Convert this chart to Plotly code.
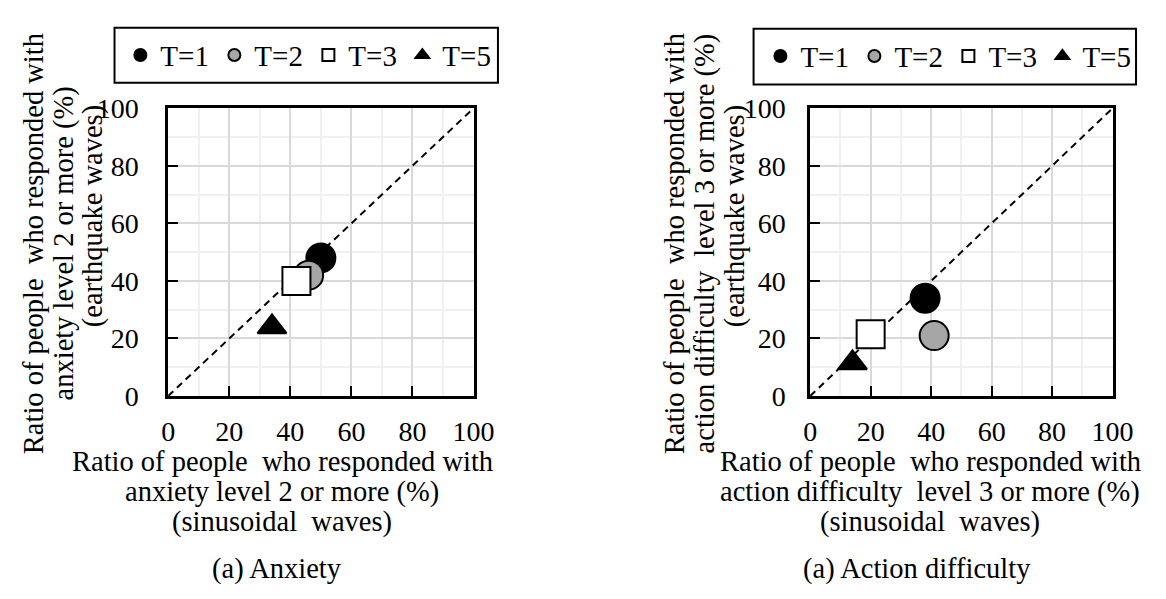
import plotly.graph_objects as go

# page is 1166x599; the html body adds an 8px margin, so the figure is sized to fit
PAGE_W, PAGE_H = 1166, 599
OFF = 8
W, H = PAGE_W - 2 * OFF, PAGE_H - 2 * OFF
FONT = "Liberation Serif, Times New Roman, serif"

# ---------------- data ----------------
series_names = ["T=1", "T=2", "T=3", "T=5"]
anxiety_sin = [50, 46, 42, 34]        # x: sinusoidal waves (%)
anxiety_eq = [48, 42, 40, 24]         # y: earthquake waves (%)
action_sin = [38, 41, 20, 14]
action_eq = [34, 21, 21.5, 11.5]
diag = [0, 100]
tick_vals = [0, 20, 40, 60, 80, 100]
tick_text = ["0", "20", "40", "60", "80", "100"]

x_title_a = ["Ratio of people  who responded with", "anxiety level 2 or more (%)", "(sinusoidal  waves)"]
y_title_a = ["Ratio of people  who responded with", "anxiety level 2 or more (%)", "(earthquake waves)"]
x_title_b = ["Ratio of people  who responded with", "action difficulty  level 3 or more (%)", "(sinusoidal  waves)"]
y_title_b = ["Ratio of people  who responded with", "action difficulty  level 3 or more (%)", "(earthquake waves)"]
captions = ["(a) Anxiety", "(a) Action difficulty"]

# ---------------- styles ----------------
symbols = ["circle", "circle", "square", "triangle-up"]
fills = ["black", "#a6a6a6", "white", "black"]
sizes = [29, 29, 28, 25]


def px(x):
    return (x - OFF) / W


def py(y):
    return 1 - (y - OFF) / H


fig = go.Figure()

panels = [
    (anxiety_sin, anxiety_eq, "x", "y", "legend"),
    (action_sin, action_eq, "x2", "y2", "legend2"),
]
for xs, ys, xa, ya, lg in panels:
    fig.add_trace(go.Scatter(x=diag, y=diag, mode="lines", xaxis=xa, yaxis=ya,
                             line=dict(color="black", width=2, dash="7px,5px"),
                             showlegend=False, hoverinfo="skip"))
    for i, name in enumerate(series_names):
        fig.add_trace(go.Scatter(
            x=[xs[i]], y=[ys[i]], mode="markers", name=name, xaxis=xa, yaxis=ya,
            legend=lg,
            marker=dict(symbol=symbols[i], size=sizes[i], color=fills[i],
                        line=dict(color="black", width=2)),
        ))

axis_common = dict(
    range=[0, 100], tickvals=tick_vals, ticktext=tick_text,
    showline=True, linecolor="black", linewidth=2.5, mirror=True,
    ticks="inside", ticklen=10, tickwidth=2, tickcolor="black",
    showgrid=True, gridcolor="#d9d9d9", gridwidth=2,
    minor=dict(dtick=10, showgrid=True, gridcolor="#f0f0f0", gridwidth=2, ticks=""),
    zeroline=False, fixedrange=True,
    tickfont=dict(family=FONT, size=28, color="black"),
)

legend_common = dict(orientation="h", xanchor="left", yanchor="middle",
                     font=dict(family=FONT, size=29, color="black"), entrywidth=49,
                     entrywidthmode="pixels", itemsizing="constant",
                     bgcolor="rgba(0,0,0,0)", borderwidth=0)

fig.update_layout(
    width=W, height=H, margin=dict(l=0, r=0, t=0, b=0),
    paper_bgcolor="white", plot_bgcolor="white",
    xaxis=dict(domain=[px(165), px(478)], anchor="y", ticklabelstandoff=9, **axis_common),
    yaxis=dict(domain=[py(402), py(98)], anchor="x", ticklabelstandoff=21, **axis_common),
    xaxis2=dict(domain=[px(823), px(1133)], anchor="y2", ticklabelstandoff=9, **axis_common),
    yaxis2=dict(domain=[py(402), py(98)], anchor="x2", ticklabelstandoff=16, **axis_common),
    legend=dict(x=px(116), y=py(42), **legend_common),
    legend2=dict(x=px(772), y=py(43), **legend_common),
    showlegend=True,
)

# legend frames
for x0, x1, y0, y1 in [(110, 503, 13, 71), (765, 1157, 14, 73)]:
    fig.add_shape(type="rect", xref="paper", yref="paper",
                  x0=px(x0), x1=px(x1), y0=py(y1), y1=py(y0),
                  line=dict(color="black", width=2), fillcolor="rgba(0,0,0,0)", layer="below")

tfont = dict(family=FONT, size=28.5, color="black")


def add_text(text, x, y, angle=0):
    fig.add_annotation(text=text, x=px(x), y=py(y), xref="paper", yref="paper",
                       showarrow=False, xanchor="center", yanchor="middle",
                       textangle=angle, font=tfont)


# x titles
for lines, cx in [(x_title_a, 282), (x_title_b, 946)]:
    for line, y in zip(lines, [471, 503, 535]):
        add_text(line, cx, y)

# captions
add_text(captions[0], 277, 585)
add_text(captions[1], 933, 585)

# y titles (rotated)
for lines, xs_ in [(y_title_a, [27, 58, 88]), (y_title_b, [684, 715, 746])]:
    for line, x, y in zip(lines, xs_, [241, 241, 212]):
        add_text(line, x, y, angle=-90)

fig.write_html("out.html")
